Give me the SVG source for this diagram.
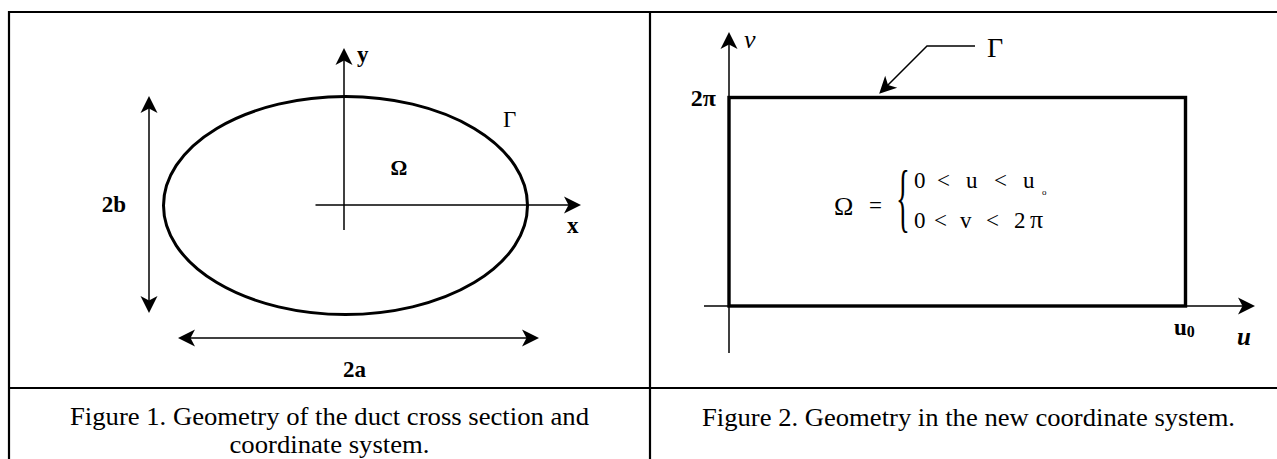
<svg xmlns="http://www.w3.org/2000/svg" width="1277" height="459" viewBox="0 0 1277 459">
<style>
.frame{stroke:#000;stroke-width:2.2;fill:none}
.axis{stroke:#000;stroke-width:1.5;fill:none}
.thick{stroke:#000;stroke-width:3.4;fill:none}
.lbl{font-family:"Liberation Serif","Times New Roman",serif;font-weight:bold;fill:#000}
.reg{font-family:"Liberation Serif","Times New Roman",serif;fill:#000}
.cap{font-family:"Liberation Serif","Times New Roman",serif;font-size:25px;fill:#000;text-anchor:middle}
</style>
<defs>
<marker id="ah" markerUnits="userSpaceOnUse" viewBox="-14 -10 20 20" refX="0" refY="0" markerWidth="20" markerHeight="20" orient="auto-start-reverse">
<path d="M4,0 L-13,-8.5 L-8.5,0 L-13,8.5 Z" fill="#000"/>
</marker>
</defs>
<rect width="1277" height="459" fill="#fff"/>
<g id="frame">
<line class="frame" x1="9" y1="12" x2="1277" y2="12"/>
<line class="frame" x1="9" y1="11" x2="9" y2="459"/>
<line class="frame" x1="650" y1="12" x2="650" y2="459"/>
<line class="frame" x1="9" y1="388" x2="1277" y2="388"/>
</g>
<g id="figure1">
<g id="ellipse-gamma"><ellipse class="thick" cx="345.5" cy="205.5" rx="182" ry="109" style="stroke-width:3"/></g>
<g id="label-gamma1"><text class="reg" x="503" y="127" font-size="23">Γ</text></g>
<g id="label-omega1"><text class="lbl" x="399" y="175" font-size="21" text-anchor="middle">Ω</text></g>
<g id="label-y"><text class="lbl" x="357" y="62" font-size="23">y</text></g>
<g id="label-x"><text class="lbl" x="567" y="233" font-size="23">x</text></g>
<g id="label-2b"><text class="lbl" x="126" y="212" font-size="23" text-anchor="end">2b</text></g>
<g id="label-2a"><text class="lbl" x="354.5" y="377" font-size="23" text-anchor="middle">2a</text></g>
</g>
<g id="figure2">
<g id="rect-domain"><rect class="thick" x="729" y="97.5" width="456.5" height="208.5"/></g>
<g id="label-v"><text class="reg" x="744" y="48" font-size="26" font-style="italic">v</text></g>
<g id="label-gamma2"><text class="reg" x="987" y="57" font-size="28">Γ</text></g>
<g id="label-2pi"><text class="lbl" x="716" y="106" font-size="24" text-anchor="end">2π</text></g>
<g id="label-u0"><text class="lbl" x="1174" y="335" font-size="23">u<tspan font-size="16" dy="2">0</tspan></text></g>
<g id="label-u"><text class="lbl" x="1237" y="345" font-size="25" font-style="italic">u</text></g>
<g id="formula">
<text class="reg" x="834" y="215" font-size="26">Ω</text>
<text class="reg" x="869" y="213" font-size="23">=</text>
<text class="reg" transform="translate(896,223) scale(0.38,1)" font-size="76">{</text>
<text class="reg" y="188" font-size="23"><tspan x="914">0</tspan><tspan x="937">&lt;</tspan><tspan x="966">u</tspan><tspan x="994">&lt;</tspan><tspan x="1023">u</tspan></text>
<text class="reg" x="1042" y="195" font-size="9">o</text>
<text class="reg" y="228" font-size="23"><tspan x="914">0</tspan><tspan x="934">&lt;</tspan><tspan x="960">v</tspan><tspan x="986">&lt;</tspan><tspan x="1014">2</tspan><tspan x="1030" font-size="26">π</tspan></text>
</g>
</g>
<g id="connectors">
<line class="axis" x1="344" y1="230" x2="344" y2="52" marker-end="url(#ah)"/>
<line class="axis" x1="315.5" y1="205" x2="577" y2="205" marker-end="url(#ah)"/>
<line class="axis" x1="149" y1="100" x2="149" y2="309" marker-start="url(#ah)" marker-end="url(#ah)"/>
<line class="axis" x1="182" y1="338" x2="535" y2="338" marker-start="url(#ah)" marker-end="url(#ah)"/>
<line class="axis" x1="729" y1="353" x2="729" y2="36" marker-end="url(#ah)"/>
<line class="axis" x1="704" y1="306" x2="1251" y2="306" marker-end="url(#ah)"/>
<polyline class="axis" points="975,46 927,46 882,91" marker-end="url(#ah)"/>
</g>
<g id="captions">
<text class="cap" x="329.5" y="425" textLength="519" lengthAdjust="spacingAndGlyphs">Figure 1. Geometry of the duct cross section and</text>
<text class="cap" x="329.5" y="453" textLength="200" lengthAdjust="spacingAndGlyphs">coordinate system.</text>
<text class="cap" x="968.5" y="426" textLength="533" lengthAdjust="spacingAndGlyphs">Figure 2. Geometry in the new coordinate system.</text>
</g>
</svg>
